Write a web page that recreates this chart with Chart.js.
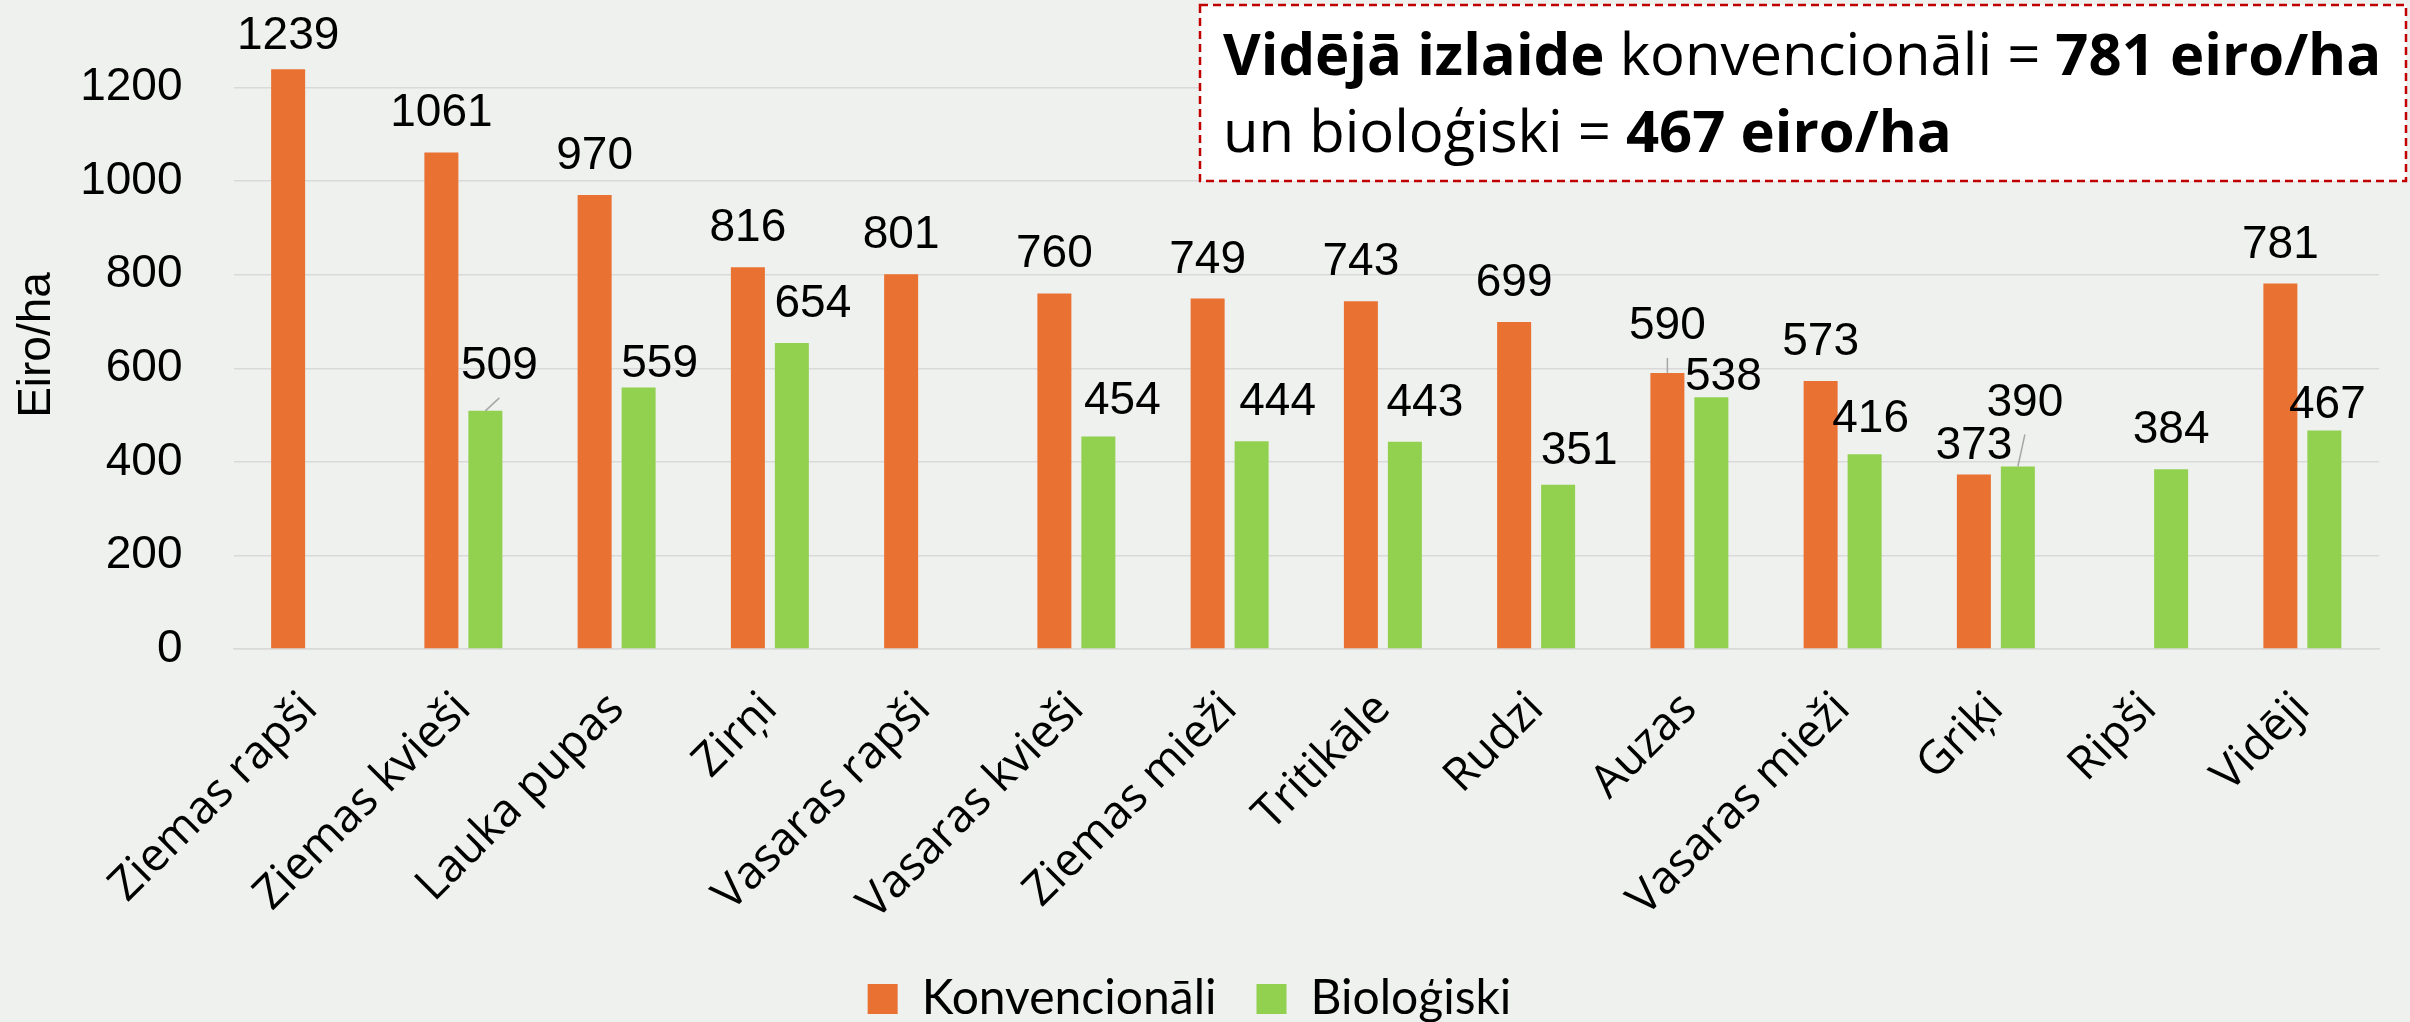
<!DOCTYPE html>
<html>
<head>
<meta charset="utf-8">
<script src="https://cdn.jsdelivr.net/npm/chart.js@4"></script>
<style>
    html, body { margin: 0; padding: 0; background: #eff1ef; }
    #wrap { width: 2410px; height: 1022px; position: relative; }
</style>
</head>
<body>
<div id="wrap"><canvas id="ienakumiChart"></canvas></div>
<script>
// Kultūras
const categories = ["Ziemas rapši", "Ziemas kvieši", "Lauka pupas", "Zirņi", "Vasaras rapši", "Vasaras kvieši",
    "Ziemas mieži", "Tritikāle", "Rudzi", "Auzas", "Vasaras mieži", "Griķi", "Ripši", "Vidēji"];

// Izlaide, eiro/ha
const konvencionali = [1239, 1061, 970, 816, 801, 760, 749, 743, 699, 590, 573, 373, null, 781];
const biologiski = [null, 509, 559, 654, null, 454, 444, 443, 351, 538, 416, 390, 384, 467];

const yTicks = [0, 200, 400, 600, 800, 1000, 1200];
const seriesNames = ["Konvencionāli", "Bioloģiski"];
const yTitle = "Eiro/ha";

const ORANGE = "#e97132";
const GREEN = "#92d050";
const GRID = "#d9d9d9";
const PLOT_BOTTOM = 649;
const PAD_BOTTOM = -11;

// fons + ass nosaukums
const bgPlugin = {
    id: "bg",
    beforeDraw(chart) {
        const ctx = chart.ctx;
        ctx.save();
        ctx.fillStyle = "#eff1ef";
        ctx.fillRect(0, 0, chart.width, chart.height);
        ctx.translate(37, 345);
        ctx.rotate(-Math.PI / 2);
        ctx.fillStyle = "#000";
        ctx.font = "46px 'Liberation Sans', Arial, sans-serif";
        ctx.textAlign = "center";
        ctx.textBaseline = "middle";
        ctx.fillText(yTitle, 0, 0);
        ctx.restore();
    }
};

// vērtību etiķetes virs stabiņiem
const valueLabels = {
    id: "valueLabels",
    afterDatasetsDraw(chart, args, opts) {
        const ctx = chart.ctx;
        ctx.save();
        ctx.font = "46px 'Liberation Sans', Arial, sans-serif";
        ctx.textAlign = "center";
        ctx.textBaseline = "alphabetic";
        chart.data.datasets.forEach((ds, di) => {
            const meta = chart.getDatasetMeta(di);
            meta.data.forEach((bar, i) => {
                const v = ds.data[i];
                if (v === null || v === undefined) return;
                const n = (opts.nudges[di] && opts.nudges[di][i]) || [0, 0];
                const x = bar.x + n[0];
                const y = bar.y - 26 + n[1];
                if (opts.leaders[di] && opts.leaders[di].includes(i)) {
                    ctx.strokeStyle = "#a6a6a6";
                    ctx.lineWidth = 1.5;
                    ctx.beginPath();
                    ctx.moveTo(bar.x, bar.y);
                    ctx.lineTo(x, y + 19);
                    ctx.stroke();
                }
                ctx.fillStyle = "#000";
                ctx.fillText(String(v), x, y);
            });
        });
        ctx.restore();
    }
};

// rāmis ar vidējo izlaidi
const infoBox = {
    id: "infoBox",
    afterDraw(chart) {
        const ctx = chart.ctx;
        const avgK = konvencionali[konvencionali.length - 1];
        const avgB = biologiski[biologiski.length - 1];
        ctx.save();
        ctx.fillStyle = "#ffffff";
        ctx.fillRect(1200, 5, 1206, 176);
        ctx.setLineDash([8, 5]);
        ctx.strokeStyle = "#c00000";
        ctx.lineWidth = 2.5;
        ctx.strokeRect(1200, 5, 1206, 176);
        ctx.setLineDash([]);

        const lines = [
            [["Vidējā izlaide", true], [" konvencionāli = ", false], [avgK + " eiro/ha", true]],
            [["un bioloģiski = ", false], [avgB + " eiro/ha", true]]
        ];
        const base = [75, 152];
        ctx.fillStyle = "#000";
        ctx.textBaseline = "alphabetic";
        ctx.textAlign = "left";
        lines.forEach((parts, li) => {
            let x = 1223;
            parts.forEach(p => {
                ctx.font = (p[1] ? "bold " : "") + "58px 'Open Sans', sans-serif";
                ctx.fillText(p[0], x, base[li]);
                x += ctx.measureText(p[0]).width;
            });
        });
        ctx.restore();
    }
};

const ctx = document.getElementById("ienakumiChart").getContext("2d");
new Chart(ctx, {
    type: "bar",
    data: {
        labels: categories,
        datasets: [{
            label: seriesNames[0],
            data: konvencionali,
            backgroundColor: ORANGE,
            categoryPercentage: 0.574,
            barPercentage: 0.773
        }, {
            label: seriesNames[1],
            data: biologiski,
            backgroundColor: GREEN,
            categoryPercentage: 0.574,
            barPercentage: 0.773
        }]
    },
    options: {
        responsive: true,
        maintainAspectRatio: false,
        devicePixelRatio: 1,
        animation: false,
        layout: { padding: { top: 0, right: 31, bottom: PAD_BOTTOM, left: 0 } },
        scales: {
            x: {
                grid: { display: false },
                border: { color: GRID, width: 1.5 },
                ticks: {
                    color: "#000",
                    font: { family: "'Open Sans', sans-serif", size: 46 },
                    minRotation: 45,
                    maxRotation: 45,
                    padding: 25,
                    autoSkip: false
                },
                afterFit(scale) {
                    const lg = scale.chart.legend;
                    scale.height = scale.chart.height - PLOT_BOTTOM - (lg ? lg.height : 0) - PAD_BOTTOM;
                }
            },
            y: {
                min: 0,
                max: 1387,
                grid: { color: GRID, lineWidth: 1.5, drawTicks: false },
                border: { display: false },
                afterBuildTicks(scale) {
                    scale.ticks = yTicks.map(v => ({ value: v }));
                },
                ticks: {
                    color: "#000",
                    font: { family: "'Liberation Sans', Arial, sans-serif", size: 46 },
                    padding: 51,
                    callback: v => String(v)
                },
                afterFit(scale) {
                    scale.width = 233.5;
                    scale.paddingTop = 0;
                    scale.paddingBottom = 0;
                }
            }
        },
        plugins: {
            legend: {
                position: "bottom",
                labels: {
                    color: "#000",
                    boxWidth: 30,
                    boxHeight: 30,
                    padding: 40,
                    font: { family: "Lato, sans-serif", size: 48 }
                }
            },
            tooltip: { enabled: false },
            valueLabels: {
                nudges: [
                    [[0, 6], [0, -1], [0, 0], [0, 0], [0, 0], [0, 0], [0, 0], [0, 0], [0, 0], [0, -8], [0, 0], [0, 11], null, [0, 0]],
                    [null, [14, -6], [21, 16], [21, 0], null, [24, 3], [26, 0], [20, 0], [21, 5], [12, 19], [6, 4], [7, -25], [0, 0], [3, 14]]
                ],
                leaders: [[9], [1, 11]]
            }
        }
    },
    plugins: [bgPlugin, valueLabels, infoBox]
});
</script>
</body>
</html>
